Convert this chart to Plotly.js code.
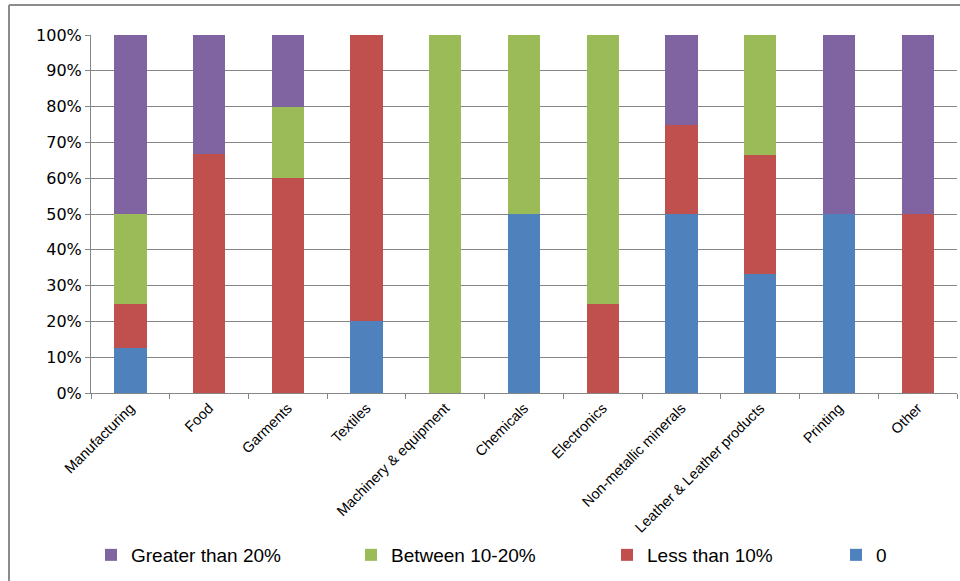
<!DOCTYPE html>
<html><head><meta charset="utf-8">
<script src="https://cdn.plot.ly/plotly-3.0.1.min.js"></script>
<style>html,body{margin:0;padding:0;background:#fff}#chart{width:960px;height:581px}</style>
</head><body><div id="chart"></div>
<script>
const categories = ["Manufacturing","Food","Garments","Textiles","Machinery & equipment","Chemicals","Electronics","Non-metallic minerals","Leather & Leather products","Printing","Other"];
const zeroPct    = [12.5, 0, 0, 20, 0, 50, 0, 50, 33.3, 50, 0];
const lessThan10 = [12.5, 66.7, 60, 80, 0, 0, 25, 25, 33.3, 0, 50];
const between10_20 = [25, 0, 20, 0, 100, 50, 75, 0, 33.4, 0, 0];
const greaterThan20 = [50, 33.3, 20, 0, 0, 0, 0, 25, 0, 50, 50];
const yTicks = [0,10,20,30,40,50,60,70,80,90,100];
const yTickLabels = yTicks.map(v => v + "%");

const mk = (name, y, color, legend) => ({type:'bar', name, x:categories, y, marker:{color}, legend, hoverinfo:'x+y+name'});
const data = [
  mk('0', zeroPct, '#4F81BD', 'legend4'),
  mk('Less than 10%', lessThan10, '#C0504D', 'legend3'),
  mk('Between 10-20%', between10_20, '#9BBB59', 'legend2'),
  mk('Greater than 20%', greaterThan20, '#8064A2', 'legend')
];
const L=91, R=957, T=35, B=393, W=960, H=581;
const pw=R-L, ph=B-T;
const px = x => (x-L)/pw, py = y => (B-y)/ph;
const leg = x => ({orientation:'h', x:px(x), xanchor:'left', y:py(555), yanchor:'middle',
  font:{size:19, family:'Liberation Sans, Arial, sans-serif', color:'#000'}, bgcolor:'rgba(0,0,0,0)'});
const layout = {
  width:W, height:H,
  margin:{l:L, r:W-R, t:T, b:H-B, pad:0},
  barmode:'stack', bargap:0.59,
  paper_bgcolor:'#fff', plot_bgcolor:'#fff',
  font:{family:'Liberation Sans, Arial, sans-serif', color:'#000'},
  xaxis:{type:'category', tickangle:-45, tickfont:{size:14.5, color:'#000'}, showline:true, linecolor:'#868686', linewidth:1,
         ticks:'outside', tickson:'boundaries', ticklen:5, tickcolor:'#868686', showgrid:false, automargin:false},
  yaxis:{range:[0,100], tickvals:yTicks, ticktext:yTickLabels, tickfont:{size:16, family:'DejaVu Sans, sans-serif', color:'#000'},
         showgrid:true, gridcolor:'#868686', gridwidth:1,
         showline:true, linecolor:'#868686', ticks:'outside', ticklen:5, tickcolor:'#868686', zeroline:false, automargin:false},
  showlegend:true,
  legend:leg(91), legend2:leg(351), legend3:leg(607), legend4:leg(836),
  shapes:[
    {type:'line', xref:'paper', yref:'paper', x0:px(9), x1:px(9), y0:py(5), y1:py(600), line:{color:'#8c8c8c', width:2}},
    {type:'line', xref:'paper', yref:'paper', x0:px(9), x1:px(970), y0:py(5), y1:py(5), line:{color:'#8c8c8c', width:2}}
  ]
};
Plotly.newPlot('chart', data, layout, {displayModeBar:false, staticPlot:true});
</script></body></html>
